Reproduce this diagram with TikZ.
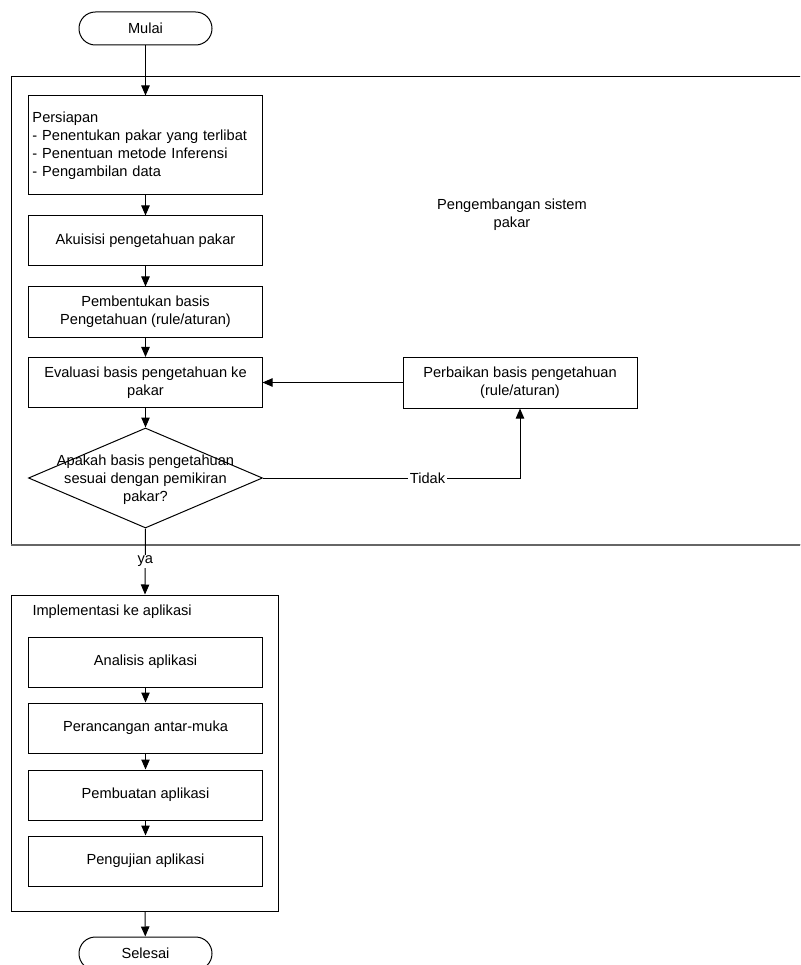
\documentclass[tikz,border=0pt]{standalone}
\usepackage{fontspec}
\setmainfont{Liberation Sans}
\usetikzlibrary{arrows.meta,shapes.geometric}

\newcommand{\teksfont}{\fontsize{10.4}{12.9}\selectfont}

\tikzset{
  kotak/.style={draw, rectangle, minimum width=58.25mm, minimum height=12.5mm,
    align=center, inner sep=1pt},
  terminal/.style={draw, rectangle, rounded corners=4.1mm, minimum width=33.25mm,
    minimum height=8.25mm},
  keputusan/.style={draw, diamond, minimum width=58.5mm, minimum height=25mm,
    inner sep=0pt},
  panah/.style={-{Triangle[length=2.5mm,width=2.1mm]}}
}

\begin{document}
\begin{tikzpicture}[x=0.25mm, y=-0.25mm, line width=0.25mm, font=\teksfont]

\clip (0,0) rectangle (800,965);

% Mulai
\node[terminal] (mulai) at (145.5,28.5) {Mulai};

% Blok pengembangan sistem pakar
\node[draw, minimum width=200.75mm, minimum height=116.75mm, inner sep=0pt] (pengembangan) at (413.5,310.5) {};
\draw[gray!80!black, line width=0.5mm] (pengembangan.south west) -- (pengembangan.south east);
\node[align=center] (judulpengembangan) at (512,215) {Pengembangan sistem\\pakar};

\node[kotak, minimum height=24.75mm, text width=56.5mm, align=left, inner sep=0.9mm] (persiapan) at (145.5,145.5)
  {Persiapan\\- Penentukan pakar yang terlibat\\- Penentuan metode Inferensi\\- Pengambilan data};
\node[kotak] (akuisisi) at (145.5,241) {Akuisisi pengetahuan pakar};
\node[kotak] (pembentukan) at (145.5,312) {Pembentukan basis\\Pengetahuan (rule/aturan)};
\node[kotak] (evaluasi) at (145.5,382.5) {Evaluasi basis pengetahuan ke\\pakar};
\node[kotak, minimum width=58.5mm, minimum height=12.75mm] (perbaikan) at (520,382.5) {Perbaikan basis pengetahuan\\(rule/aturan)};

\node[keputusan] (cek) at (145.5,478) {};
\node[align=center, inner sep=0pt, text depth=0pt] (cekteks) at (cek.center) {Apakah basis pengetahuan\\sesuai dengan pemikiran\\pakar?};

% Blok implementasi
\node[draw, minimum width=66.5mm, minimum height=79mm, inner sep=0pt] (implementasi) at (145,753) {};
\node[anchor=west, inner sep=0pt] (judulimplementasi) at (32,612) {Implementasi ke aplikasi};

\node[kotak] (analisis) at (145.5,662) {Analisis aplikasi};
\node[kotak] (perancangan) at (145.5,728) {Perancangan antar-muka};
\node[kotak] (pembuatan) at (145.5,795) {Pembuatan aplikasi};
\node[kotak] (pengujian) at (145.5,861) {Pengujian aplikasi};

% Selesai
\node[terminal] (selesai) at (145.5,953.5) {Selesai};

% Panah
\draw[panah] (mulai) -- (persiapan);
\draw[panah] (persiapan) -- (akuisisi);
\draw[panah] (akuisisi) -- (pembentukan);
\draw[panah] (pembentukan) -- (evaluasi);
\draw[panah] (evaluasi) -- (cek.north);
\draw[panah] (cek.east) -| node[pos=0.32, fill=white, inner sep=1pt] (tidak) {Tidak} (perbaikan.south);
\draw[panah] (perbaikan.west) -- (evaluasi.east);
\draw[panah] (cek.south) -- node[fill=white, inner sep=1pt] (ya) {ya} (implementasi.north);
\draw[panah] (analisis) -- (perancangan);
\draw[panah] (perancangan) -- (pembuatan);
\draw[panah] (pembuatan) -- (pengujian);
\draw[panah] (implementasi.south) -- (selesai);

\end{tikzpicture}
\end{document}
